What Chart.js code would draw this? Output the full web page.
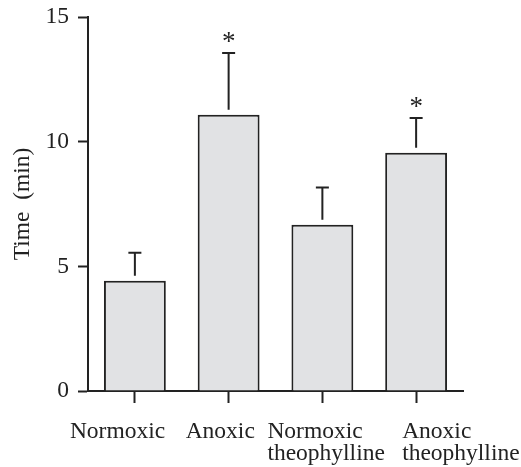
<!DOCTYPE html>
<html>
<head>
<meta charset="utf-8">
<script src="https://cdn.jsdelivr.net/npm/chart.js@4.4.0/dist/chart.umd.min.js"></script>
<style>
  html, body { margin: 0; padding: 0; background: #fff; }
  #wrap { width: 521px; height: 467px; }
</style>
</head>
<body>
<div id="wrap"><canvas id="myChart" width="521" height="467"></canvas></div>
<script>
const categories = [['Normoxic'], ['Anoxic'], ['Normoxic', 'theophylline'], ['Anoxic', 'theophylline']];
const meanTime = [4.42, 11.08, 6.67, 9.56];
const errTime = [1.12, 2.48, 1.49, 1.39];
const starred = [false, true, false, true];
const yTicks = [0, 5, 10, 15];

// where each category label block starts, relative to its tick (layout only)
const labelShift = [-65, -43, -55, -14];

const ink = '#222';
const serif = "'Liberation Serif', 'Times New Roman', serif";

// error bars (upper only) + asterisks + category labels
const errorBars = {
    id: 'errorBars',
    afterDatasetsDraw(chart) {
        const ctx = chart.ctx;
        const meta = chart.getDatasetMeta(0);
        const ys = chart.scales.y;
        ctx.save();
        ctx.strokeStyle = ink;
        ctx.lineWidth = 2;
        meta.data.forEach((bar, i) => {
            let x = bar.x;
            let top = ys.getPixelForValue(meanTime[i]);
            let cap = ys.getPixelForValue(meanTime[i] + errTime[i]);
            ctx.beginPath();
            ctx.moveTo(x, top - 5);
            ctx.lineTo(x, cap);
            ctx.moveTo(x - 6.5, cap);
            ctx.lineTo(x + 6.5, cap);
            ctx.stroke();
            if (starred[i]) {
                ctx.fillStyle = ink;
                ctx.font = '27px ' + serif;
                ctx.textAlign = 'center';
                ctx.textBaseline = 'middle';
                ctx.fillText('*', x, cap - 10);
            }
        });
        ctx.restore();
    },
    afterDraw(chart) {
        const ctx = chart.ctx;
        const xs = chart.scales.x;
        ctx.save();
        ctx.fillStyle = ink;
        ctx.font = '23.5px ' + serif;
        ctx.textAlign = 'left';
        ctx.textBaseline = 'alphabetic';
        categories.forEach((lines, i) => {
            let x0 = xs.getPixelForTick(i) + labelShift[i];
            lines.forEach((txt, k) => {
                ctx.fillText(txt, x0, xs.top + 47 + k * 22);
            });
        });
        ctx.restore();
    }
};

const ctxB = document.querySelector('#myChart').getContext('2d');
const barChart = new Chart(ctxB, {
    type: 'bar',
    data: {
        labels: categories,
        datasets: [{
            data: meanTime,
            backgroundColor: '#e1e2e4',
            borderColor: ink,
            borderWidth: 2,
            barPercentage: 0.66,
            categoryPercentage: 1
        }]
    },
    options: {
        responsive: false,
        animation: false,
        layout: { padding: { top: 17, right: 58, left: 0, bottom: 0 } },
        plugins: {
            legend: { display: false },
            tooltip: { enabled: false }
        },
        scales: {
            x: {
                offset: true,
                grid: {
                    offset: false,
                    drawOnChartArea: false,
                    tickLength: 12,
                    tickWidth: 2,
                    tickColor: ink
                },
                border: { color: ink, width: 2 },
                ticks: { display: false },
                afterFit(scale) {
                    scale.height = 76;
                    scale.paddingLeft = 0;
                    scale.paddingRight = 0;
                }
            },
            y: {
                min: 0,
                max: 15,
                afterBuildTicks(scale) { scale.ticks = yTicks.map(v => ({ value: v })); },
                grid: {
                    drawOnChartArea: false,
                    tickLength: 10,
                    tickWidth: 2,
                    tickColor: ink
                },
                border: { color: ink, width: 2 },
                ticks: {
                    color: ink,
                    padding: 9,
                    font: { family: serif, size: 23.5 }
                },
                title: {
                    display: true,
                    text: 'Time  (min)',
                    color: ink,
                    padding: { top: 9, bottom: 0 },
                    font: { family: serif, size: 23.5 }
                },
                afterFit(scale) {
                    scale.width = 88;
                    scale.paddingTop = 0;
                    scale.paddingBottom = 0;
                }
            }
        }
    },
    plugins: [errorBars]
});
</script>
</body>
</html>
